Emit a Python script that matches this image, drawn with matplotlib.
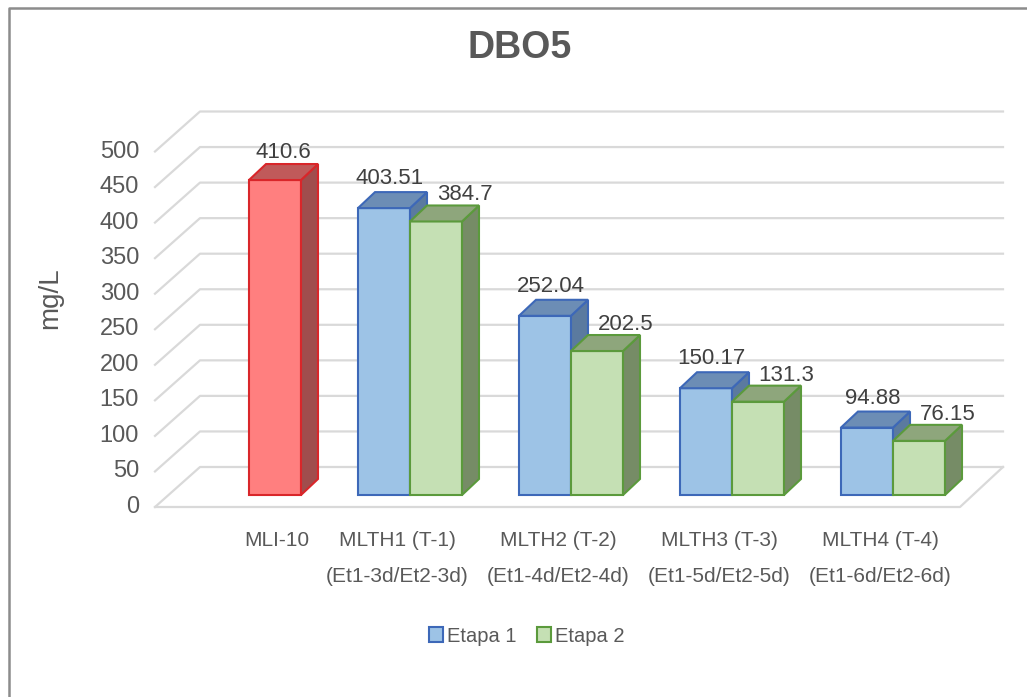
import matplotlib
matplotlib.use('Agg')
import matplotlib.pyplot as plt
import numpy as np
from matplotlib.patches import Polygon, Patch
from matplotlib.lines import Line2D

plt.rcParams['font.family'] = ['Liberation Sans', 'DejaVu Sans']

# datos
categorias = ['MLI-10', 'MLTH1 (T-1)\n(Et1-3d/Et2-3d)', 'MLTH2 (T-2)\n(Et1-4d/Et2-4d)',
              'MLTH3 (T-3)\n(Et1-5d/Et2-5d)', 'MLTH4 (T-4)\n(Et1-6d/Et2-6d)']
etapa1 = [np.nan, 403.51, 252.04, 150.17, 94.88]
etapa2 = [np.nan, 384.7, 202.5, 131.3, 76.15]
mli_valor = 443.0        # altura dibujada de la barra roja en el original
mli_etiqueta = '410.6'   # etiqueta que muestra el original
ticks_y = np.arange(0, 501, 50)

GRIS = '#595959'
GRIS_OSC = '#404040'
W, H = 1027, 697
fig = plt.figure(figsize=(W / 100, H / 100), dpi=100)
ax = fig.add_axes([0, 0, 1, 1])

# escala: px por categoria, px por mg/L
PX_X, PX_Y = 161, 0.711
X0, Y0 = 249, 495
ax.set_xlim(-X0 / PX_X, (W - X0) / PX_X)
ax.set_ylim((Y0 - H) / PX_Y, Y0 / PX_Y)
ax.axis('off')


def hx(px):
    return px / PX_X


def hy(px):
    return px / PX_Y


ancho = hx(52)
prof_x, prof_y = hx(17), hy(16)

# paredes / rejilla
fl, bl = hx(155 - X0), hx(200 - X0)
br, fr = hx(1003 - X0), hx(960 - X0)
off_f, off_b = hy(-12), hy(28)
for t in ticks_y:
    ax.plot([fl, bl, br], [t + off_f, t + off_b, t + off_b], color='#d9d9d9', lw=1.6, zorder=1)
    ax.text(hx(139 - X0), t + off_f, str(t), ha='right', va='center', fontsize=17, color=GRIS)
ax.plot([fl, fr, br], [off_f, off_f, off_b], color='#d9d9d9', lw=1.6, zorder=1)


def barra_3d(x, v, frente, borde, lado, techo, z):
    rect = ax.bar(x, v, width=ancho, color=frente, edgecolor=borde, linewidth=1.5, zorder=z)[0]
    xl = rect.get_x()
    xr = xl + rect.get_width()
    h = rect.get_height()
    ax.add_patch(Polygon([(xr, 0), (xr + prof_x, prof_y), (xr + prof_x, h + prof_y), (xr, h)],
                         fc=lado, ec=borde, lw=1.5, zorder=z))
    ax.add_patch(Polygon([(xl, h), (xl + prof_x, h + prof_y), (xr + prof_x, h + prof_y), (xr, h)],
                         fc=techo, ec=borde, lw=1.5, zorder=z))
    return (xl + xr) / 2 + prof_x / 2, h + prof_y


x = np.arange(len(categorias))

# barra roja MLI-10
cx, top = barra_3d(x[0] + ancho / 2, mli_valor, '#ff7f7f', '#d9262a', '#a04d4d', '#c05a5a', 2)
ax.text(cx, top + hy(1), mli_etiqueta, ha='center', va='bottom', fontsize=16, color=GRIS_OSC, zorder=20)

for i in x[1:]:
    cx, top = barra_3d(i - ancho / 2, etapa1[i], '#9dc3e6', '#3d68b8', '#5b7a9f', '#6c8db5', 2 + 2 * i)
    ax.text(cx + hx(-3), top + hy(3), f'{etapa1[i]:g}', ha='center', va='bottom',
            fontsize=16, color=GRIS_OSC, zorder=20)
    cx, top = barra_3d(i + ancho / 2, etapa2[i], '#c5e0b4', '#5b9a3c', '#768c66', '#8ea67c', 3 + 2 * i)
    ax.text(cx + hx(20), top + hy(0), f'{etapa2[i]:g}', ha='center', va='bottom',
            fontsize=16, color=GRIS_OSC, zorder=20)

# etiquetas de categoria
pos_cat = [x[0] + ancho / 2 + hx(2)] + [i - hx(13) for i in x[1:]]
for xc, lab in zip(pos_cat, categorias):
    for k, linea in enumerate(lab.split('\n')):
        ax.text(xc, (Y0 - 540 - 37 * k) / PX_Y, linea, ha='center', va='center',
                fontsize=15, color=GRIS)

fig.text(520 / W, 1 - 48 / H, 'DBO5', ha='center', va='center', fontsize=27,
         fontweight='bold', color=GRIS)
fig.text(50 / W, 1 - 298 / H, 'mg/L', ha='center', va='center', rotation=90,
         fontsize=20, color=GRIS)

handles = [Patch(fc='#9dc3e6', ec='#3d68b8', lw=1.5), Patch(fc='#c5e0b4', ec='#5b9a3c', lw=1.5)]
fig.legend(handles, ['Etapa 1', 'Etapa 2'], loc='center', bbox_to_anchor=(527 / W, 1 - 636 / H),
           ncol=2, frameon=False, fontsize=14.5, handlelength=0.7, handleheight=0.7,
           handletextpad=0.2, columnspacing=1.0, labelcolor=GRIS)

# marco
fig.add_artist(Line2D([9 / W, 9 / W, 1], [0, 1 - 8 / H, 1 - 8 / H], transform=fig.transFigure,
                      color='#8c8c8c', lw=1.8))

fig.savefig('out.png', dpi=100)
